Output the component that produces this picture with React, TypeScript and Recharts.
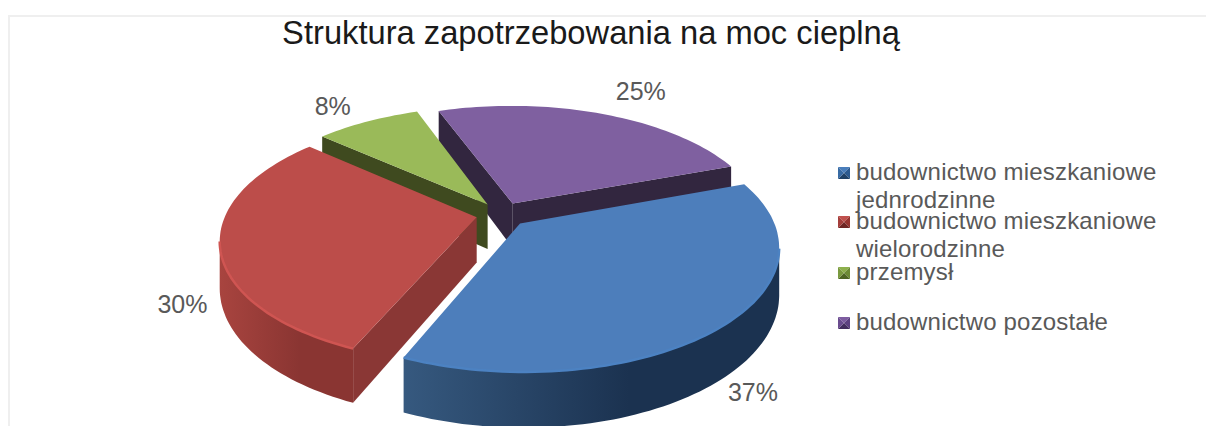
import { PieChart, Pie, Legend } from "recharts";

const categories = [
  "budownictwo mieszkaniowe jednrodzinne",
  "budownictwo mieszkaniowe wielorodzinne",
  "przemysł",
  "budownictwo pozostałe",
];
const values = [37, 30, 8, 25];
const legendLines = [
  ["budownictwo mieszkaniowe", "jednrodzinne"],
  ["budownictwo mieszkaniowe", "wielorodzinne"],
  ["przemysł"],
  ["budownictwo pozostałe"],
];
const legendTops = [158, 207, 258, 308];
const labelNudge = [
  [-24, -14],
  [22, 5],
  [-12, 0],
  [23, -6],
];

const topColors = ["#4d7ebb", "#bc4d4a", "#9aba59", "#7f60a0"];
const wallColors = ["#1c3350", "#8a3735", "#3f4a1f", "#32263f"];
const bevelColors = ["#4c82c2", "#cf5552", "#9aba59", "#7f60a0"];
const rimFrom = ["#36597f", "#a8443f", "#6f8a3a", "#5d4677"];
const rimTo = ["#1b3250", "#8a3532", "#4f6326", "#42315a"];
const markerShades = [
  ["#4a7ebb", "#2c5a8f", "#1f4166", "#386ba4"],
  ["#c0504d", "#96332f", "#6e2523", "#a53e3b"],
  ["#8db04c", "#6c8a35", "#4e6524", "#7a9a3f"],
  ["#7d5ca0", "#5c4080", "#422d5e", "#6a4c8f"],
];

const WIDTH = 1206;
const HEIGHT = 426;
const TILT = 0.4725; // vertical squash of the pie plane
const PERSP = 0.177; // far side of the pie shrinks
const DEPTH = 0.18; // wall height as share of the radius
const EXPLODE = 0.103;
const LABEL_R = 1.22;

// pie plane -> screen, X to the right, Y away from the viewer, radius = 1
function project(cx: number, cy: number, R: number, X: number, Y: number) {
  const s = 1 / (1 + PERSP * Y);
  return { x: cx + R * X * s, y: cy - R * TILT * Y * s, s };
}

const rad = (deg: number) => (deg * Math.PI) / 180;

function toPath(points: { x: number; y: number }[], close = true) {
  const d = points.map((p, i) => `${i ? "L" : "M"}${p.x.toFixed(1)} ${p.y.toFixed(1)}`).join(" ");
  return close ? d + " Z" : d;
}

function Slice3D(props: any) {
  const { cx, cy, outerRadius: R, startAngle, endAngle, name } = props;
  const idx = categories.indexOf(name);
  const from = 90 - endAngle;
  const to = 90 - startAngle;
  const mid = (from + to) / 2;
  const ox = EXPLODE * Math.sin(rad(mid));
  const oy = EXPLODE * Math.cos(rad(mid));
  const at = (th: number, r = 1) =>
    project(cx, cy, R, ox + r * Math.sin(rad(th)), oy + r * Math.cos(rad(th)));
  const down = (p: { x: number; y: number; s: number }) => ({
    x: p.x,
    y: p.y + R * DEPTH * p.s,
    s: p.s,
  });

  const arc: { x: number; y: number; s: number }[] = [];
  for (let th = from; th < to; th += 1.5) arc.push(at(th));
  arc.push(at(to));
  const apex = at(0, 0);
  const first = arc[0];
  const last = arc[arc.length - 1];

  // only the rim part turned to the viewer
  const rim: typeof arc = [];
  arc.forEach((p, i) => {
    const next = arc[i + 1];
    const prev = arc[i - 1];
    if ((next && next.x < p.x) || (prev && p.x < prev.x)) rim.push(p);
  });

  return (
    <g>
      {first.x < apex.x && (
        <path d={toPath([apex, first, down(first), down(apex)])} fill={wallColors[idx]} />
      )}
      {apex.x < last.x && (
        <path d={toPath([last, apex, down(apex), down(last)])} fill={wallColors[idx]} />
      )}
      {rim.length > 1 && (
        <path d={toPath([...rim, ...rim.map(down).reverse()])} fill={`url(#rim${idx})`} />
      )}
      <path d={toPath([apex, ...arc])} fill={topColors[idx]} />
      {rim.length > 1 && (
        <path d={toPath(rim, false)} fill="none" stroke={bevelColors[idx]} strokeWidth={2.5} />
      )}
    </g>
  );
}

function PercentLabel(props: any) {
  const { cx, cy, outerRadius: R, midAngle, value, name } = props;
  const nudge = labelNudge[categories.indexOf(name)];
  const th = 90 - midAngle;
  const sin = Math.sin(rad(th));
  const cos = Math.cos(rad(th));
  const p = project(cx, cy, R, (EXPLODE + LABEL_R) * sin, (EXPLODE + LABEL_R) * cos);
  const y = cos < 0 ? p.y + R * DEPTH * p.s : p.y;
  return (
    <text x={p.x + nudge[0]} y={y + nudge[1]} textAnchor="middle" dominantBaseline="central" fontSize={25} fill="#595959" fontFamily="Liberation Sans">
      {value}%
    </text>
  );
}

function Marker({ shades }: { shades: string[] }) {
  return (
    <svg width={12} height={12} style={{ position: "absolute", left: 0, top: 0 }}>
      <polygon points="0,0 12,0 6,6" fill={shades[0]} />
      <polygon points="12,0 12,12 6,6" fill={shades[1]} />
      <polygon points="0,12 12,12 6,6" fill={shades[2]} />
      <polygon points="0,0 0,12 6,6" fill={shades[3]} />
    </svg>
  );
}

function ChartLegend() {
  return (
    <div style={{ position: "relative", width: 340, height: 200, fontFamily: "Liberation Sans", fontSize: 24, color: "#595959", letterSpacing: 0.18 }}>
      {legendLines.map((lines, i) => (
        <div key={i} style={{ position: "absolute", left: 0, top: legendTops[i] - 158 }}>
          <div style={{ position: "absolute", left: 0, top: 9, width: 12, height: 12 }}>
            <Marker shades={markerShades[i]} />
          </div>
          <div style={{ marginLeft: 18, lineHeight: "28px", whiteSpace: "nowrap" }}>
            {lines.map((l) => (
              <div key={l}>{l}</div>
            ))}
          </div>
        </div>
      ))}
    </div>
  );
}

// painted back to front, so the table runs the other way round the pie
const table = categories.map((name, i) => ({ name, value: values[i], fill: topColors[i] })).reverse();

export default function App() {
  return (
    <div style={{ position: "absolute", left: 0, top: 0, width: WIDTH, height: HEIGHT, background: "#fff", overflow: "hidden" }}>
      <div style={{ position: "absolute", left: 8, top: 15, width: WIDTH, height: HEIGHT, borderLeft: "2px solid #efefef", borderTop: "2px solid #efefef" }} />
      <div style={{ position: "absolute", left: 0, top: 0 }}>
        <PieChart width={WIDTH} height={HEIGHT} margin={{ top: 0, right: 0, bottom: 0, left: 0 }}>
          <defs>
            {categories.map((_, i) => (
              <linearGradient key={i} id={`rim${i}`} x1="0" y1="0" x2="1" y2="0">
                <stop offset="0%" stopColor={rimFrom[i]} />
                <stop offset="60%" stopColor={rimTo[i]} />
                <stop offset="100%" stopColor={rimTo[i]} />
              </linearGradient>
            ))}
          </defs>
          <text x={591} y={44} textAnchor="middle" fontSize={32.7} fill="#1a1a1a" fontFamily="Liberation Sans">
            Struktura zapotrzebowania na moc cieplną
          </text>
          <Pie
            data={table}
            dataKey="value"
            nameKey="name"
            cx={502}
            cy={214.5}
            outerRadius={251}
            startAngle={20}
            endAngle={380}
            stroke="none"
            shape={Slice3D}
            label={PercentLabel}
            labelLine={false}
            isAnimationActive={false}
          />
          <Legend
            content={ChartLegend}
            wrapperStyle={{ position: "absolute", left: 838, top: 158, width: 340, height: 200 }}
          />
        </PieChart>
      </div>
    </div>
  );
}
